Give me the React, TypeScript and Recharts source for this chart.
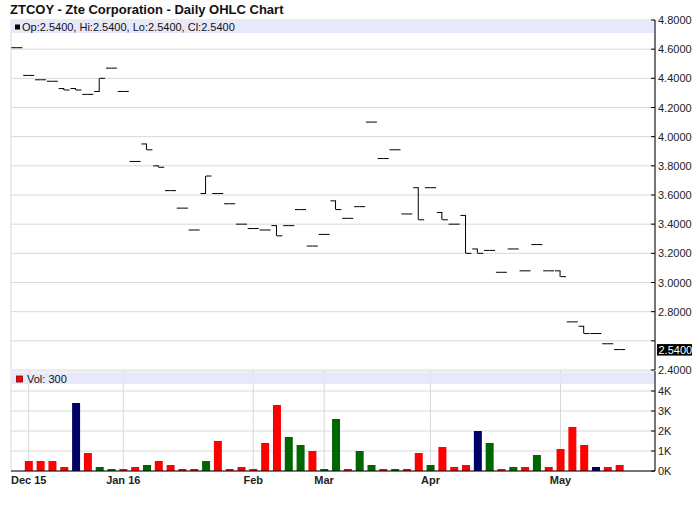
import { ComposedChart, Bar, Scatter, XAxis, YAxis, CartesianGrid, ReferenceArea, ReferenceLine, Cell } from 'recharts';

const FONT = '"Liberation Sans", Arial, sans-serif';

// one entry per trading day, oldest first
const opens = [4.61, 4.42, 4.39, 4.38, 4.33, 4.33, 4.29, 4.31, 4.47, 4.31, 3.83, 3.95, 3.80, 3.63, 3.51, 3.36, 3.61, 3.61, 3.54, 3.40, 3.37, 3.36, 3.39, 3.39, 3.50, 3.25, 3.33, 3.56, 3.44, 3.52, 4.10, 3.85, 3.91, 3.47, 3.65, 3.65, 3.48, 3.40, 3.46, 3.23, 3.22, 3.07, 3.23, 3.08, 3.26, 3.08, 3.08, 2.73, 2.70, 2.65, 2.58, 2.54];
const highs = [4.61, 4.42, 4.39, 4.38, 4.33, 4.33, 4.29, 4.40, 4.47, 4.31, 3.83, 3.95, 3.80, 3.63, 3.51, 3.36, 3.73, 3.61, 3.54, 3.40, 3.37, 3.36, 3.39, 3.39, 3.50, 3.25, 3.33, 3.56, 3.44, 3.52, 4.10, 3.85, 3.91, 3.47, 3.65, 3.65, 3.48, 3.40, 3.46, 3.23, 3.22, 3.07, 3.23, 3.08, 3.26, 3.08, 3.08, 2.73, 2.70, 2.65, 2.58, 2.54];
const lows = [4.61, 4.42, 4.39, 4.38, 4.32, 4.32, 4.29, 4.31, 4.47, 4.31, 3.83, 3.91, 3.79, 3.63, 3.51, 3.36, 3.61, 3.61, 3.54, 3.40, 3.37, 3.36, 3.32, 3.39, 3.50, 3.25, 3.33, 3.50, 3.44, 3.52, 4.10, 3.85, 3.91, 3.47, 3.43, 3.65, 3.43, 3.40, 3.20, 3.20, 3.22, 3.07, 3.23, 3.08, 3.26, 3.08, 3.04, 2.73, 2.65, 2.65, 2.58, 2.54];
const closes = [4.61, 4.42, 4.39, 4.38, 4.32, 4.32, 4.29, 4.40, 4.47, 4.31, 3.83, 3.91, 3.79, 3.63, 3.51, 3.36, 3.73, 3.61, 3.54, 3.40, 3.37, 3.36, 3.32, 3.39, 3.50, 3.25, 3.33, 3.50, 3.44, 3.52, 4.10, 3.85, 3.91, 3.47, 3.43, 3.65, 3.43, 3.40, 3.20, 3.20, 3.22, 3.07, 3.23, 3.08, 3.26, 3.08, 3.04, 2.73, 2.65, 2.65, 2.58, 2.54];
const volumes = [0, 500, 500, 500, 200, 3400, 900, 200, 100, 100, 200, 300, 500, 300, 100, 100, 500, 1500, 100, 200, 100, 1400, 3300, 1700, 1300, 1000, 100, 2600, 100, 1000, 300, 100, 100, 100, 900, 300, 1200, 200, 300, 2000, 1400, 100, 200, 200, 800, 200, 1100, 2200, 1300, 200, 200, 300];

const tickIdx = [1, 9, 20, 26, 35, 46];
const tickLabels = ['Dec 15', 'Jan 16', 'Feb', 'Mar', 'Apr', 'May'];
const priceTicks = [2.4, 2.6, 2.8, 3.0, 3.2, 3.4, 3.6, 3.8, 4.0, 4.2, 4.4, 4.6, 4.8];
const volTicks = [0, 1000, 2000, 3000, 4000];

const data = closes.map((c, i) => ({
  i,
  open: opens[i],
  high: highs[i],
  low: lows[i],
  close: c,
  range: [lows[i], highs[i]],
  volume: volumes[i],
}));

const last = data[data.length - 1];
const volColor = (i: number) => {
  if (i === 0 || closes[i] < closes[i - 1]) return '#ff0000';
  if (closes[i] > closes[i - 1]) return '#006600';
  return '#000066';
};

const X_DOMAIN: [number, number] = [-0.5, 54];
const GRID = '#d8d8d8';
const BAND = '#e4e4fa';

const AxisTick = ({ x, y, payload, fmt, hide }: any) => (
  <g>
    <line x1={x - 7} x2={x - 3} y1={y} y2={y} stroke="#000" />
    {!hide(payload.value) && (
      <text x={x} y={y} dy={4} fontSize={11} fill="#222" fontFamily={FONT}>
        {fmt(payload.value)}
      </text>
    )}
  </g>
);

const OpenTick = ({ cx, cy }: any) => <line x1={cx - 5.5} x2={cx} y1={cy} y2={cy} stroke="#000" />;
const CloseTick = ({ cx, cy }: any) => <line x1={cx} x2={cx + 5.5} y1={cy} y2={cy} stroke="#000" />;

const Wick = ({ x, y, width, height }: any) => {
  if (!height) return null;
  const cx = x + width / 2;
  const top = Math.min(y, y + height);
  return <line x1={cx} x2={cx} y1={top} y2={top + Math.abs(height)} stroke="#000" />;
};

const PriceBand = ({ x, y, width }: any) => (
  <g>
    <rect x={x + 1} y={y + 1} width={width - 1} height={12} fill={BAND} fillOpacity={0.85} />
    <rect x={x + 4} y={y + 4.5} width={5} height={5} fill="#000" />
    <text x={x + 11} y={y + 11} fontSize={11} fill="#111" fontFamily={FONT}>
      {`Op:${last.open.toFixed(4)}, Hi:${last.high.toFixed(4)}, Lo:${last.low.toFixed(4)}, Cl:${last.close.toFixed(4)}`}
    </text>
  </g>
);

const VolBand = ({ x, y, width }: any) => (
  <g>
    <rect x={x + 1} y={y + 1.5} width={width - 1} height={11.5} fill={BAND} fillOpacity={0.85} />
    <rect x={x + 5.5} y={y + 5} width={6} height={6} fill="#ff0000" stroke="#880000" strokeWidth={0.8} />
    <text x={x + 16} y={y + 11.5} fontSize={11} fill="#111" fontFamily={FONT}>
      {`Vol: ${last.volume}`}
    </text>
  </g>
);

const LastPrice = ({ viewBox }: any) => {
  const bx = viewBox.x + viewBox.width + 2;
  return (
    <g>
      <rect x={bx} y={viewBox.y - 5.5} width={35} height={11.5} fill="#000" />
      <text x={bx + 1.5} y={viewBox.y + 4} fontSize={11} fill="#fff" fontFamily={FONT}>
        {last.close.toFixed(4)}
      </text>
    </g>
  );
};

export default function App() {
  return (
    <div style={{ position: 'absolute', left: 0, top: 0, width: 700, height: 512, background: '#fff' }}>
      <div style={{ position: 'absolute', left: 0, top: 371 }}>
        <ComposedChart width={700} height={141} data={data} margin={{ top: 0, right: 0, bottom: 0, left: 11 }}>
          <CartesianGrid yAxisId="v" stroke={GRID} />
          <XAxis
            dataKey="i"
            type="number"
            domain={X_DOMAIN}
            ticks={tickIdx}
            interval={0}
            tickLine={false}
            tickSize={0}
            tickMargin={5}
            height={41}
            axisLine={{ stroke: '#000' }}
            tickFormatter={(v: number) => tickLabels[tickIdx.indexOf(v)]}
            tick={{ fontSize: 11, fontWeight: 'bold', fill: '#222', fontFamily: FONT }}
          />
          <YAxis yAxisId="l" orientation="left" width={0} domain={[0, 5000]} tick={false} tickLine={false} axisLine={{ stroke: '#000' }} />
          <YAxis
            yAxisId="v"
            orientation="right"
            width={45}
            domain={[0, 5000]}
            ticks={volTicks}
            interval={0}
            tickLine={false}
            tickSize={0}
            tickMargin={3}
            axisLine={{ stroke: '#000' }}
            tick={(p: any) => <AxisTick {...p} fmt={(v: number) => `${v / 1000}K`} hide={() => false} />}
          />
          <ReferenceArea yAxisId="v" y1={5000} y2={0} ifOverflow="visible" shape={(p: any) => <VolBand {...p} />} />
          <Bar yAxisId="v" dataKey="volume" barSize={8} isAnimationActive={false}>
            {data.map((d) => (
              <Cell key={`vol-${d.i}`} fill={volColor(d.i)} />
            ))}
          </Bar>
        </ComposedChart>
      </div>
      <div style={{ position: 'absolute', left: 0, top: 0 }}>
        <ComposedChart width={700} height={382} data={data} margin={{ top: 20, right: 0, bottom: 12, left: 11 }}>
          <CartesianGrid yAxisId="p" stroke={GRID} />
          <XAxis
            dataKey="i"
            type="number"
            domain={X_DOMAIN}
            ticks={tickIdx}
            tick={false}
            tickLine={false}
            height={0}
            axisLine={{ stroke: '#000', strokeWidth: 2 }}
          />
          <YAxis yAxisId="l" orientation="left" width={0} domain={[2.4, 4.8]} tick={false} tickLine={false} axisLine={{ stroke: '#000' }} />
          <YAxis
            yAxisId="p"
            orientation="right"
            width={45}
            domain={[2.4, 4.8]}
            ticks={priceTicks}
            interval={0}
            tickLine={false}
            tickSize={0}
            tickMargin={3}
            axisLine={{ stroke: '#000' }}
            tick={(p: any) => (
              <AxisTick {...p} fmt={(v: number) => v.toFixed(4)} hide={(v: number) => Math.abs(v - last.close) < 0.1} />
            )}
          />
          <ReferenceArea yAxisId="p" y1={4.8} y2={2.4} ifOverflow="visible" shape={(p: any) => <PriceBand {...p} />} />
          <Bar yAxisId="p" dataKey="range" barSize={1} shape={(p: any) => <Wick {...p} />} isAnimationActive={false} />
          <Scatter yAxisId="p" dataKey="open" shape={(p: any) => <OpenTick {...p} />} isAnimationActive={false} />
          <Scatter yAxisId="p" dataKey="close" shape={(p: any) => <CloseTick {...p} />} isAnimationActive={false} />
          <ReferenceLine yAxisId="p" y={last.close} stroke="none" label={(p: any) => <LastPrice {...p} />} />
        </ComposedChart>
      </div>
      <svg style={{ position: 'absolute', left: 0, top: 0 }} width={700} height={19}>
        <text x={10} y={13.5} fontSize={13} fontWeight="bold" fill="#111" fontFamily={FONT}>
          ZTCOY - Zte Corporation - Daily OHLC Chart
        </text>
      </svg>
    </div>
  );
}
